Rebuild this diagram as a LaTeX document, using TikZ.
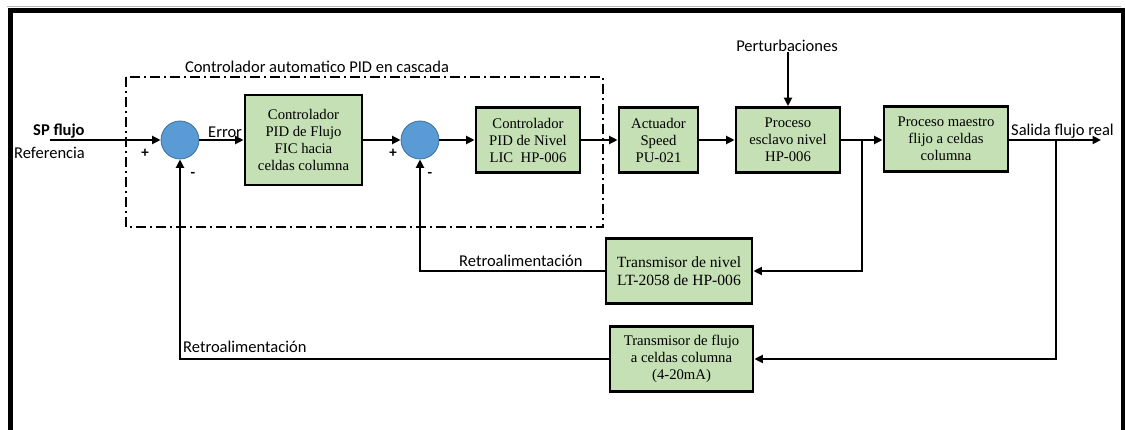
\documentclass[tikz,border=0pt]{standalone}
\usepackage{fontspec}
\setmainfont{Liberation Serif}
\newfontfamily\sansfam{Carlito}
\usetikzlibrary{arrows.meta}
\definecolor{boxgreen}{HTML}{C5E0B4}
\definecolor{sumblue}{HTML}{5B9BD5}
\definecolor{sumedge}{HTML}{41719C}

\begin{document}
\begin{tikzpicture}[x=1pt,y=-1pt,
  blk/.style={draw=black, line width=2.8pt, fill=boxgreen, align=center, inner sep=0pt,
              font=\fontsize{14.7}{17}\selectfont},
  sumj/.style={circle, fill=sumblue, draw=sumedge, line width=0.8pt, minimum size=38pt, inner sep=0pt},
  sig/.style={line width=2.7pt, -{Triangle[length=8.5pt,width=8pt]}},
  lbl/.style={font=\sansfam\fontsize{16.5}{18}\selectfont, inner sep=0pt},
  sgn/.style={font=\sansfam\bfseries\fontsize{15}{17}\selectfont, inner sep=0pt},
  cascade/.style={line width=1.8pt, dash pattern=on 10pt off 4pt on 2pt off 4pt},
]
\useasboundingbox (0,0) rectangle (1125,430);

% outer frame
\draw[gray!55, line width=1pt] (7,6.5) -- (1121,6.5);
\draw[line width=5pt, line join=miter] (10,432) -- (10,10.5) -- (1123,10.5) -- (1123,432);

% cascade controller region
\draw[cascade] (126,77) rectangle (603,227);
\node[lbl] (title) at (317,67) {Controlador automatico PID en cascada};

% summing junctions
\node[sumj] (s1) at (180,140) {};
\node[sumj] (s2) at (420,140) {};

% blocks
\node[blk, minimum width=117pt, minimum height=90pt] (fic) at (303.5,140) {Controlador\\PID de Flujo\\FIC hacia\\celdas columna};
\node[blk, minimum width=104pt, minimum height=65pt] (lic) at (528,140) {Controlador\\PID de Nivel\\LIC~ HP-006};
\node[blk, minimum width=79pt, minimum height=65pt] (act) at (658.5,140) {Actuador\\Speed\\PU-021};
\node[blk, minimum width=104pt, minimum height=65pt] (esc) at (788,140) {Proceso\\esclavo nivel\\HP-006};
\node[blk, minimum width=124pt, minimum height=65pt] (mae) at (946,139) {Proceso maestro\\flijo a celdas\\columna};
\node[blk, minimum width=146pt, minimum height=65pt, font=\fontsize{15.6}{17.7}\selectfont] (lt) at (679,271) {Transmisor de nivel\\LT-2058 de HP-006};
\node[blk, minimum width=143pt, minimum height=65pt] (ft) at (681.5,359) {Transmisor de flujo\\a celdas columna\\(4-20mA)};

% text labels
\node[lbl, font=\sansfam\bfseries\fontsize{16.5}{18}\selectfont, anchor=west] (sp) at (33,131) {SP flujo};
\node[lbl, anchor=west] (ref) at (14,153) {Referencia};
\node[lbl, anchor=west] (err) at (208,132) {Error};
\node[lbl] (pert) at (787,46) {Perturbaciones};
\node[lbl, anchor=west] (sal) at (1011,131) {Salida flujo real};
\node[lbl, anchor=west] (retroA) at (459,261) {Retroalimentación};
\node[lbl, anchor=west] (retroB) at (183,347) {Retroalimentación};

% signs
\node[sgn] (p1) at (145,153) {+};
\node[sgn] (m1) at (193,175) {-};
\node[sgn] (p2) at (393,153) {+};
\node[sgn] (m2) at (430,175) {-};

% free ends and branch points
\coordinate (in) at (50,140);
\coordinate (outend) at (1101,140);
\coordinate (j1) at (862,140);
\coordinate (j2) at (1056,140);

% forward path
\draw[sig] (in) -- (s1.west);
\draw[sig] (s1.east) -- (fic.west);
\draw[sig] (fic.east) -- (s2.west);
\draw[sig] (s2.east) -- (lic.west);
\draw[sig] (lic.east) -- (act.west);
\draw[sig] (act.east) -- (esc.west);
\draw[sig] (pert.south -| esc.north) -- (esc.north);
\draw[sig] (esc.east) -- (esc.east -| mae.west);
\draw[sig] (mae.east |- outend) -- (outend);

% feedback loops
\draw[sig] (j1) |- (lt.east);
\draw[sig] (lt.west) -| (s2.south);
\draw[sig] (j2) |- (ft.east);
\draw[sig] (ft.west) -| (s1.south);
\end{tikzpicture}
\end{document}
